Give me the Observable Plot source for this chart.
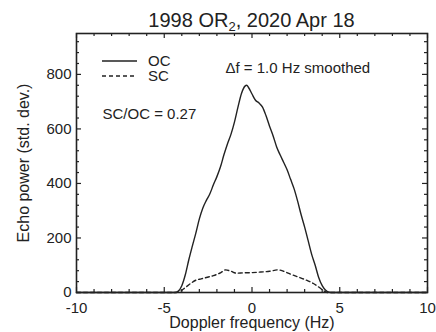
<!DOCTYPE html>
<html><head><meta charset="utf-8">
<script src="https://cdn.jsdelivr.net/npm/d3@7"></script>
<script src="https://cdn.jsdelivr.net/npm/@observablehq/plot@0.6"></script>
<style>
body{margin:0;background:#fff;}
#wrap{position:relative;width:436px;height:332px;font-family:"Liberation Sans",Arial,Helvetica,sans-serif;color:#222;}
#title{position:absolute;left:76px;width:351px;top:9px;text-align:center;font-size:20px;line-height:22px;white-space:nowrap;}
#title sub{font-size:13px;line-height:0;vertical-align:-4px;}
.leg{position:absolute;left:102px;height:14px;font-size:15px;line-height:14px;display:flex;align-items:center;}
.leg svg{margin-right:11px;}
</style></head>
<body><div id="wrap"><div id="title">1998 OR<sub>2</sub>, 2020 Apr 18</div></div>
<script>
// Doppler frequency (Hz) and echo power (std. dev.)
const ocFreq = [-10, -4.4, -4.2, -4.0, -3.8, -3.6, -3.4, -3.2, -3.0, -2.8, -2.6, -2.4, -2.2, -2.0, -1.8, -1.6, -1.4, -1.2, -1.0, -0.8, -0.6, -0.4, -0.3, -0.2, 0.0, 0.2, 0.4, 0.6, 0.8, 1.0, 1.2, 1.4, 1.6, 1.8, 2.0, 2.2, 2.4, 2.6, 2.8, 3.0, 3.2, 3.4, 3.6, 3.8, 4.0, 4.2, 4.4, 4.6, 10];
const ocPower = [0, 0, 5, 25, 65, 120, 170, 218, 270, 310, 338, 362, 395, 425, 460, 505, 545, 580, 625, 680, 730, 757, 760, 752, 728, 705, 695, 680, 648, 610, 575, 535, 505, 478, 450, 415, 380, 335, 285, 240, 190, 140, 100, 55, 25, 8, 1, 0, 0];
const scFreq = [-10, -4.3, -4.1, -3.8, -3.5, -3.2, -2.9, -2.6, -2.2, -1.8, -1.5, -1.2, -0.9, -0.5, 0.0, 0.5, 1.0, 1.5, 1.8, 2.1, 2.5, 2.8, 3.1, 3.5, 3.8, 4.1, 4.3, 10];
const scPower = [0, 0, 4, 18, 33, 45, 50, 55, 62, 72, 83, 78, 71, 72, 73, 75, 78, 83, 78, 70, 60, 53, 45, 33, 20, 6, 0, 0];
const seriesNames = ["OC", "SC"];
const xMajor = [-10, -5, 0, 5, 10];
const xMinor = [-9, -8, -7, -6, -4, -3, -2, -1, 1, 2, 3, 4, 6, 7, 8, 9];
const yMajor = [0, 200, 400, 600, 800];
const yMinor = [40, 80, 120, 160, 240, 280, 320, 360, 440, 480, 520, 560, 640, 680, 720, 760, 840, 880, 920];
const xLabel = ["Doppler frequency (Hz)"];
const yLabel = ["Echo power (std. dev.)"];
const notes = ["\u0394f = 1.0 Hz smoothed", "SC/OC = 0.27"];

const oc = ocFreq.map((f, i) => ({f, p: ocPower[i]}));
const sc = scFreq.map((f, i) => ({f, p: scPower[i]}));

const W = 436, H = 332, mL = 76, mR = 9, mT = 33, mB = 40;
const pw = W - mL - mR, ph = H - mT - mB;
const ink = "#222";
const majL = 5, minL = 3;

const chart = Plot.plot({
  width: W, height: H,
  marginLeft: mL, marginRight: mR, marginTop: mT, marginBottom: mB,
  x: {domain: [-10, 10]},
  y: {domain: [0, 950]},
  style: {fontFamily: "'Liberation Sans', Arial, Helvetica, sans-serif", fontSize: "15px", color: ink, background: "transparent"},
  marks: [
    Plot.line(sc, {x: "f", y: "p", stroke: ink, strokeWidth: 1.4, strokeDasharray: "4,3", curve: "monotone-x"}),
    Plot.line(oc, {x: "f", y: "p", stroke: ink, strokeWidth: 1.4, curve: "monotone-x"}),
    // inward ticks on all four sides
    Plot.tickX(xMajor, {x: d => d, stroke: ink, strokeWidth: 1.2, insetTop: ph - majL}),
    Plot.tickX(xMinor, {x: d => d, stroke: ink, strokeWidth: 1.2, insetTop: ph - minL}),
    Plot.tickX(xMajor, {x: d => d, stroke: ink, strokeWidth: 1.2, insetBottom: ph - majL}),
    Plot.tickX(xMinor, {x: d => d, stroke: ink, strokeWidth: 1.2, insetBottom: ph - minL}),
    Plot.tickY(yMajor, {y: d => d, stroke: ink, strokeWidth: 1.2, insetRight: pw - majL}),
    Plot.tickY(yMinor, {y: d => d, stroke: ink, strokeWidth: 1.2, insetRight: pw - minL}),
    Plot.tickY(yMajor, {y: d => d, stroke: ink, strokeWidth: 1.2, insetLeft: pw - majL}),
    Plot.tickY(yMinor, {y: d => d, stroke: ink, strokeWidth: 1.2, insetLeft: pw - minL}),
    Plot.frame({stroke: ink, strokeWidth: 1.6}),
    Plot.axisX({ticks: xMajor, tickSize: 0, tickPadding: 10, tickFormat: d => String(d), label: null, fontSize: 15}),
    Plot.axisY({ticks: yMajor, tickSize: 0, tickPadding: 5, tickFormat: d => String(d), label: null, fontSize: 15}),
    Plot.text(xLabel, {frameAnchor: "bottom", dy: 35, fontSize: 16, fill: ink}),
    Plot.text(yLabel, {frameAnchor: "left", textAnchor: "middle", rotate: -90, dx: -53, fontSize: 16, fill: ink}),
    Plot.text([notes[0]], {frameAnchor: "top-left", textAnchor: "start", dx: 149, dy: 29, fontSize: 15, fill: ink}),
    Plot.text([notes[1]], {frameAnchor: "top-left", textAnchor: "start", dx: 26, dy: 75, fontSize: 15, fill: ink})
  ]
});
const wrap = document.getElementById("wrap");
wrap.prepend(chart);
chart.style.display = "block";

// legend
const legTops = [54, 69];
seriesNames.forEach((name, i) => {
  const row = document.createElement("div");
  row.className = "leg";
  row.style.top = legTops[i] + "px";
  row.innerHTML = `<svg width="35" height="4"><line x1="0" x2="35" y1="2" y2="2" stroke="${ink}" stroke-width="1.4" ${i ? 'stroke-dasharray="4,3"' : ''}/></svg><span>${name}</span>`;
  wrap.appendChild(row);
});
</script></body></html>
